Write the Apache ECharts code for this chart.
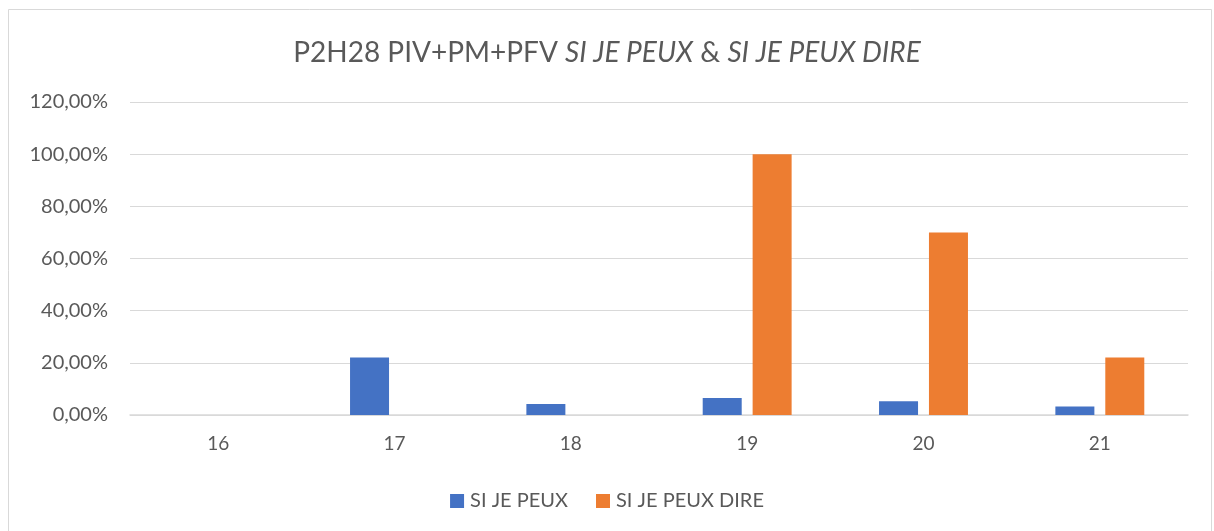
<!DOCTYPE html>
<html>
<head>
<meta charset="utf-8">
<script src="https://cdn.jsdelivr.net/npm/echarts@6/dist/echarts.min.js"></script>
<style>
  html, body { margin: 0; padding: 0; background: #fff; }
  #main { width: 1214px; height: 531px; }
</style>
</head>
<body>
<div id="main"></div>
<script>
var myChart = echarts.init(document.getElementById('main'));

// categories (axe X)
const categories = ['16', '17', '18', '19', '20', '21'];
// valeurs en %
const siJePeux = [0, 22, 4.2, 6.5, 5.3, 3.3];
const siJePeuxDire = [0, 0, 0, 100, 70, 22];
const seriesNames = ['SI JE PEUX', 'SI JE PEUX DIRE'];

const font = 'Lato';
const grey = '#595959';

var option = {
    backgroundColor: '#fff',
    textStyle: { fontFamily: font },
    graphic: [{
        type: 'rect',
        shape: { x: 8.5, y: 9.5, width: 1203, height: 525 },
        style: { fill: 'none', stroke: '#d9d9d9', lineWidth: 1 },
        silent: true
    }],
    title: {
        left: 'center',
        top: 34,
        text: '{n|P2H28 PIV+PM+PFV }{i|SI JE PEUX}{n| & }{i|SI JE PEUX DIRE}',
        textStyle: {
            fontWeight: 'normal',
            rich: {
                n: { fontSize: 28, color: grey, fontFamily: font, fontWeight: 'normal' },
                i: { fontSize: 28, color: grey, fontFamily: font, fontWeight: 'normal', fontStyle: 'italic' }
            }
        }
    },
    legend: {
        bottom: 15,
        left: 'center',
        icon: 'rect',
        itemWidth: 14,
        itemHeight: 14,
        itemGap: 28,
        textStyle: { fontSize: 20, color: grey, fontFamily: font, padding: [0, 0, 0, 1] }
    },
    grid: { left: 130, right: 26, top: 102, bottom: 116 },
    xAxis: {
        type: 'category',
        data: categories,
        axisLine: { lineStyle: { color: '#d9d9d9', width: 1.5 } },
        axisTick: { show: false },
        axisLabel: { fontSize: 19, color: grey, margin: 19 }
    },
    yAxis: {
        type: 'value',
        min: 0,
        max: 120,
        interval: 20,
        axisLine: { show: false },
        axisTick: { show: false },
        splitLine: { lineStyle: { color: '#d9d9d9', width: 1.2 } },
        axisLabel: {
            fontSize: 20,
            color: grey,
            margin: 22,
            formatter: v => v.toFixed(2).replace('.', ',') + '%'
        }
    },
    series: [
        {
            name: seriesNames[0],
            type: 'bar',
            data: siJePeux,
            color: '#4472C4',
            barWidth: 39,
            barGap: '28%'
        },
        {
            name: seriesNames[1],
            type: 'bar',
            data: siJePeuxDire,
            color: '#ED7D31',
            barWidth: 39,
            barGap: '28%'
        }
    ]
};

myChart.setOption(option);
</script>
</body>
</html>
